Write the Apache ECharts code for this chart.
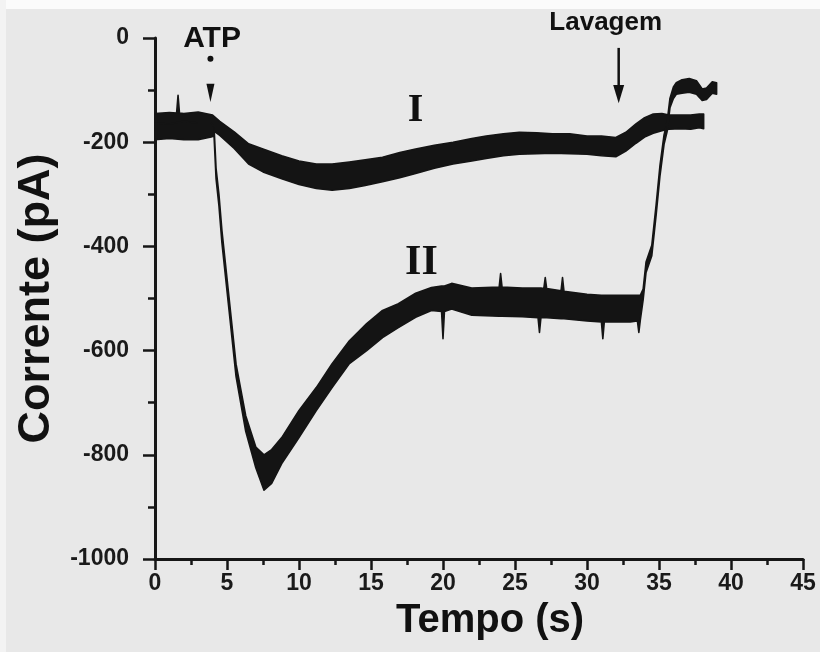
<!DOCTYPE html>
<html>
<head>
<meta charset="utf-8">
<script src="https://cdn.jsdelivr.net/npm/echarts@6/dist/echarts.min.js"></script>
<style>
html,body{margin:0;padding:0;background:#e8e8e8;}
#c{width:820px;height:652px;}
</style>
</head>
<body>
<div id="c"></div>
<script>
// ---- Data (pA vs s): upper / lower envelope of each noisy trace ----
const xTicks = [0, 5, 10, 15, 20, 25, 30, 35, 40, 45];
const yTicks = [0, -200, -400, -600, -800, -1000];

const traceI_t     = [0, 1, 1.5, 1.6, 1.7, 2, 3, 4, 4.5, 5.5, 6.5, 7.5, 8.8, 10, 11.2, 12.3, 13.5, 14.6, 15.8, 17, 18.1, 19.4, 20.7, 22, 23, 24.2, 25.3, 26.5, 27.6, 28.8, 30, 31, 32, 32.7, 33.4, 34, 34.6, 35.2, 35.7, 36.5, 37.2, 37.8, 38.1];
const traceI_upper = [-145, -143, -144, -110, -144, -145, -142, -148, -160, -180, -203, -213, -226, -236, -242, -242, -238, -234, -229, -220, -213, -206, -200, -193, -188, -184, -181, -182, -184, -184, -188, -188, -191, -181, -165, -153, -146, -145, -148, -148, -148, -146, -146];
const traceI_lower = [-177, -174, -174, -174, -174, -175, -174, -177, -187, -212, -242, -257, -270, -281, -289, -292, -289, -283, -276, -268, -260, -250, -242, -236, -231, -226, -223, -222, -221, -222, -223, -226, -228, -217, -202, -190, -183, -178, -175, -174, -175, -172, -174];

const traceII_t     = [0, 1, 2, 3, 3.9, 4.1, 4.24, 4.44, 4.65, 5.14, 5.63, 6.3, 7.0, 7.57, 8.1, 8.8, 10, 11.2, 12.3, 13.5, 14.7, 15.8, 16.9, 18.1, 19.2, 19.9, 20.0, 20.1, 20.6, 22, 23.9, 24.0, 24.1, 25.5, 26.6, 26.7, 26.8, 27.0, 27.1, 27.2, 28.2, 28.3, 28.4, 30, 31.0, 31.1, 31.2, 33, 33.5, 33.6, 33.7, 33.9, 34.1, 34.5, 34.8, 35.07, 35.35, 35.56, 35.76, 36.0, 36.2, 36.6, 37.1, 37.6, 38.0, 38.3, 38.7, 39.0];
const traceII_upper = [-163, -165, -160, -163, -163, -170, -250, -300, -370, -498, -626, -725, -785, -800, -790, -767, -715, -671, -625, -581, -548, -523, -510, -490, -479, -476, -476, -476, -471, -480, -478, -452, -478, -480, -480, -480, -480, -481, -460, -481, -485, -460, -486, -492, -494, -494, -494, -494, -494, -494, -494, -482, -430, -398, -320, -244, -186, -162, -116, -94, -86, -80, -78, -82, -98, -96, -84, -86];
const traceII_lower = [-195, -193, -195, -195, -190, -188, -270, -322, -394, -522, -650, -755, -825, -868, -855, -817, -767, -715, -671, -625, -600, -575, -556, -536, -523, -525, -577, -525, -520, -532, -534, -534, -534, -535, -537, -565, -537, -537, -537, -537, -539, -539, -539, -543, -545, -577, -545, -545, -543, -565, -542, -502, -450, -418, -340, -264, -204, -180, -134, -116, -108, -106, -104, -108, -120, -118, -106, -108];

const chart = echarts.init(document.getElementById('c'), null, {width: 820, height: 652});

function bandSeries(tArr, upArr, loArr) {
  return {
    type: 'custom',
    coordinateSystem: 'cartesian2d',
    data: [[tArr[0], upArr[0]]],
    clip: false,
    z: 5,
    renderItem: function (params, api) {
      const pts = [];
      for (let i = 0; i < tArr.length; i++) pts.push(api.coord([tArr[i], upArr[i]]));
      for (let i = tArr.length - 1; i >= 0; i--) pts.push(api.coord([tArr[i], loArr[i]]));
      return {
        type: 'polygon',
        shape: {points: pts},
        style: {fill: '#141414', stroke: '#141414', lineWidth: 1.6, lineJoin: 'round'}
      };
    }
  };
}

const sans = '"Liberation Sans", Arial, sans-serif';
const serif = '"Liberation Serif", "Times New Roman", serif';
const labelFont = {fontFamily: sans, fontWeight: 'bold', fontSize: 23, color: '#1a1a1a'};

chart.setOption({
  backgroundColor: '#e8e8e8',
  animation: false,
  grid: {left: 155, right: 17, top: 38, bottom: 93, containLabel: false},
  xAxis: {
    type: 'value', min: xTicks[0], max: xTicks[xTicks.length - 1], interval: 5,
    name: 'Tempo (s)', nameLocation: 'middle', nameGap: 42,
    nameTextStyle: {fontFamily: sans, fontWeight: 'bold', fontSize: 40, color: '#111', padding: [0, 0, 0, 22]},
    axisLine: {show: true, onZero: false, lineStyle: {color: '#161616', width: 3}},
    axisTick: {show: true, inside: false, length: 11, lineStyle: {color: '#161616', width: 2.5}},
    minorTick: {show: true, splitNumber: 2, length: 6, lineStyle: {color: '#161616', width: 2.5}},
    axisLabel: Object.assign({margin: 13, formatter: v => String(v)}, labelFont),
    splitLine: {show: false}
  },
  yAxis: {
    type: 'value', min: yTicks[yTicks.length - 1], max: yTicks[0], interval: 200,
    name: 'Corrente (pA)', nameLocation: 'middle', nameGap: 93, nameRotate: 90,
    nameTextStyle: {fontFamily: sans, fontWeight: 'bold', fontSize: 45, color: '#111'},
    axisLine: {show: true, onZero: false, lineStyle: {color: '#161616', width: 3}},
    axisTick: {show: true, inside: false, length: 12, lineStyle: {color: '#161616', width: 2.5}},
    minorTick: {show: true, splitNumber: 2, length: 7, lineStyle: {color: '#161616', width: 2.5}},
    axisLabel: Object.assign({margin: 26, formatter: v => String(v)}, labelFont),
    splitLine: {show: false}
  },
  series: [
    bandSeries(traceI_t, traceI_upper, traceI_lower),
    bandSeries(traceII_t, traceII_upper, traceII_lower)
  ]
});

// ---- annotations, anchored in data space ----
function px(t, v) { return chart.convertToPixel({gridIndex: 0}, [t, v]); }

const atpText = px(3.96, 27);
const atpDot = px(3.85, -40);
const atpTip = px(3.85, -123);
const atpBase = px(3.85, -88);
const lavText = px(31.3, 54);
const lavTop = px(32.2, -19);
const lavShaftEnd = px(32.2, -95);
const lavTip = px(32.2, -125);
const lavBase = px(32.2, -90);
const lblI = px(18.1, -140);
const lblII = px(18.5, -433);

chart.setOption({
  graphic: [
    {type: 'rect', shape: {x: 0, y: 0, width: 820, height: 9}, style: {fill: '#fbfbfb'}, z: -1},
    {type: 'rect', shape: {x: 0, y: 0, width: 6, height: 652}, style: {fill: '#f3f3f3'}, z: -1},
    {type: 'text', x: atpText[0], y: atpText[1], style: {text: 'ATP', font: 'bold 30px ' + sans, fill: '#111', align: 'center', verticalAlign: 'top'}, z: 10},
    {type: 'circle', shape: {cx: atpDot[0], cy: atpDot[1], r: 3}, style: {fill: '#111'}, z: 10},
    {type: 'polygon', shape: {points: [[atpBase[0] - 4, atpBase[1]], [atpBase[0] + 4, atpBase[1]], [atpTip[0], atpTip[1]]]}, style: {fill: '#111'}, z: 10},
    {type: 'text', x: lavText[0], y: lavText[1], style: {text: 'Lavagem', font: 'bold 26px ' + sans, fill: '#111', align: 'center', verticalAlign: 'top'}, z: 10},
    {type: 'line', shape: {x1: lavTop[0], y1: lavTop[1], x2: lavShaftEnd[0], y2: lavShaftEnd[1]}, style: {stroke: '#111', lineWidth: 2.5}, z: 10},
    {type: 'polygon', shape: {points: [[lavBase[0] - 5.5, lavBase[1]], [lavBase[0] + 5.5, lavBase[1]], [lavTip[0], lavTip[1]]]}, style: {fill: '#111'}, z: 10},
    {type: 'text', x: lblI[0], y: lblI[1], style: {text: 'I', font: 'bold 40px ' + serif, fill: '#111', align: 'center', verticalAlign: 'middle'}, z: 10},
    {type: 'text', x: lblII[0], y: lblII[1], style: {text: 'II', font: 'bold 42px ' + serif, fill: '#111', align: 'center', verticalAlign: 'middle'}, z: 10}
  ]
});
</script>
</body>
</html>
